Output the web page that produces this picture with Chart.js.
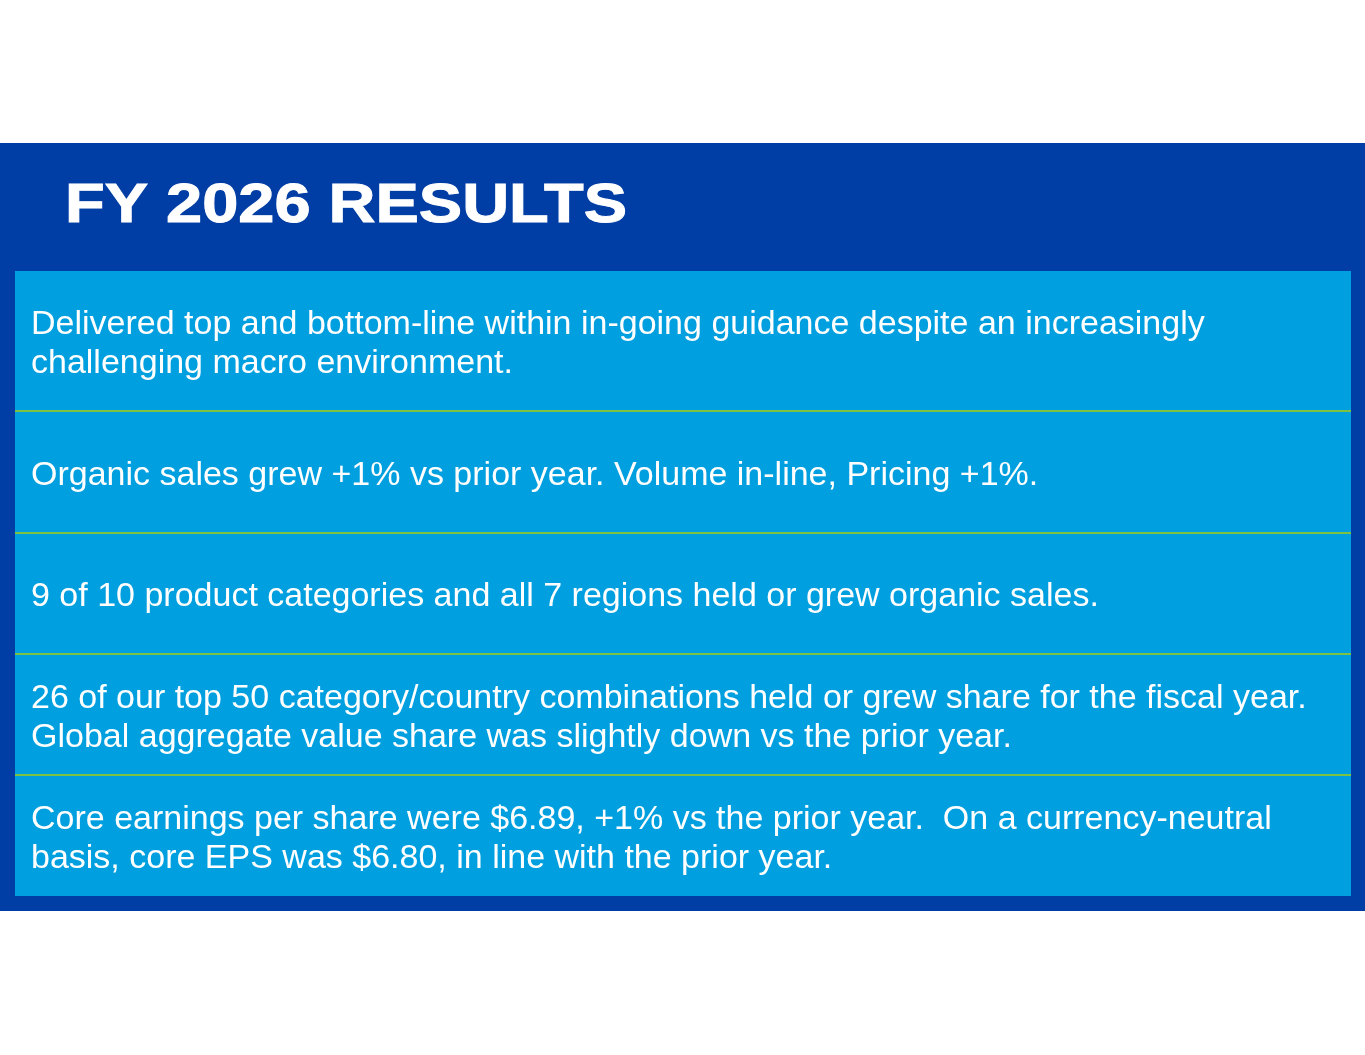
<!DOCTYPE html>
<html>
<head>
<meta charset="utf-8">
<script src="https://cdn.jsdelivr.net/npm/chart.js@4/dist/chart.umd.min.js"></script>
<style>
  html, body { margin: 0; padding: 0; background: #ffffff; }
  canvas { display: block; }
</style>
</head>
<body>
<canvas id="c" width="1365" height="1055"></canvas>
<script>
// ---- data ----
const titleText = 'FY 2026 RESULTS';
const categories = ['FY 2026'];
const rowIds = ['guidance', 'organic', 'categories', 'share', 'eps'];
const rowLines = [
  ['Delivered top and bottom-line within in-going guidance despite an increasingly',
   'challenging macro environment.'],
  ['Organic sales grew +1% vs prior year. Volume in-line, Pricing +1%.'],
  ['9 of 10 product categories and all 7 regions held or grew organic sales.'],
  ['26 of our top 50 category/country combinations held or grew share for the fiscal year.',
   'Global aggregate value share was slightly down vs the prior year.'],
  ['Core earnings per share were $6.89, +1% vs the prior year.  On a currency-neutral',
   'basis, core EPS was $6.80, in line with the prior year.']
];

// ---- layout / style ----
const rowSpan = [140, 122, 121, 121, 121];
const COLORS = { band: '#003DA5', box: '#009FDF', rule: '#7DC242', text: '#FFFFFF' };
const BODY_FONT = '34px "Liberation Sans", Arial, sans-serif';
const LINE_H = 39;

const bgPlugin = {
  id: 'slideBackground',
  beforeDraw(chart) {
    const ctx = chart.ctx;
    ctx.save();
    ctx.fillStyle = '#ffffff';
    ctx.fillRect(0, 0, chart.width, chart.height);
    ctx.fillStyle = COLORS.band;
    ctx.fillRect(0, 143, chart.width, 911 - 143);
    // title
    ctx.fillStyle = COLORS.text;
    ctx.font = 'bold 56px "Liberation Sans", Arial, sans-serif';
    ctx.textBaseline = 'alphabetic';
    ctx.textAlign = 'left';
    ctx.translate(65, 222);
    ctx.scale(1.16, 1);
    ctx.fillText(titleText, 0, 0);
    ctx.lineWidth = 1;
    ctx.strokeStyle = COLORS.text;
    ctx.strokeText(titleText, 0, 0);
    ctx.restore();
  }
};

const textPlugin = {
  id: 'rowText',
  afterDatasetsDraw(chart) {
    const ctx = chart.ctx;
    const area = chart.chartArea;
    ctx.save();
    // separators between rows
    ctx.fillStyle = COLORS.rule;
    chart.data.datasets.forEach((ds, i) => {
      if (i === 0) return;
      const el = chart.getDatasetMeta(i).data[0];
      const p = el.getProps(['y', 'base'], true);
      const top = Math.round(Math.min(p.y, p.base));
      ctx.fillRect(area.left, top - 1, area.right - area.left, 2);
    });
    // row text
    ctx.fillStyle = COLORS.text;
    ctx.font = BODY_FONT;
    ctx.textAlign = 'left';
    ctx.textBaseline = 'alphabetic';
    chart.data.datasets.forEach((ds, i) => {
      const el = chart.getDatasetMeta(i).data[0];
      const p = el.getProps(['y', 'base'], true);
      const center = (p.y + p.base) / 2;
      const lines = rowLines[i];
      const n = lines.length;
      const left = area.left + 16;
      lines.forEach((ln, k) => {
        const yb = center + 12.5 + (k - (n - 1) / 2) * LINE_H;
        ctx.fillText(ln, left, yb);
      });
    });
    ctx.restore();
  }
};

const total = rowSpan.reduce((a, b) => a + b, 0);

new Chart(document.getElementById('c'), {
  type: 'bar',
  data: {
    labels: categories,
    datasets: rowIds.map((id, i) => ({
      label: id,
      data: [rowSpan[i]],
      stack: 'rows',
      backgroundColor: COLORS.box,
      borderWidth: 0,
      barPercentage: 1,
      categoryPercentage: 1
    }))
  },
  options: {
    responsive: false,
    animation: false,
    devicePixelRatio: 1,
    layout: { padding: { left: 15, right: 14, top: 271, bottom: 1055 - 896 } },
    plugins: { legend: { display: false }, tooltip: { enabled: false }, title: { display: false } },
    scales: {
      x: { display: false, stacked: true },
      y: { display: false, stacked: true, reverse: true, min: 0, max: total }
    }
  },
  plugins: [bgPlugin, textPlugin]
});
</script>
</body>
</html>
